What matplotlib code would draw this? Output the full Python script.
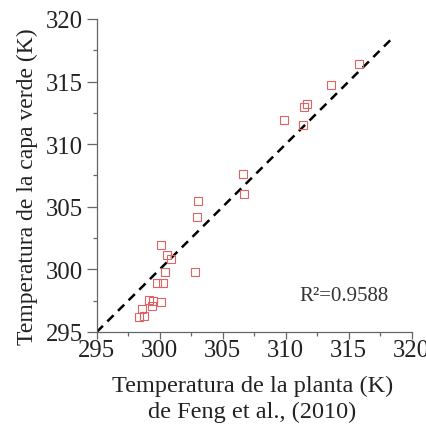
import matplotlib
matplotlib.use("Agg")
import matplotlib.pyplot as plt
from matplotlib.ticker import MultipleLocator

x_feng = [315.79, 313.57, 311.69, 311.43, 309.84, 311.35, 306.61, 306.67, 303.07, 302.94,
          300.08, 300.58, 300.90, 300.45, 302.78, 299.76, 300.29, 299.18, 299.44, 300.13,
          299.42, 298.62, 298.36, 298.78]
y_model = [316.38, 314.75, 313.24, 312.95, 311.91, 311.51, 307.60, 306.02, 305.49, 304.21,
           301.95, 301.12, 300.86, 299.82, 299.77, 298.91, 298.94, 297.58, 297.48, 297.42,
           297.10, 296.84, 296.22, 296.25]
line_range = [295.0, 318.4]
r2_text = "R²=0.9588"
xlabel = "Temperatura de la planta (K)\nde Feng et al., (2010)"
ylabel = "Temperatura de la capa verde (K)"

plt.rcParams['font.family'] = ['Liberation Serif', 'DejaVu Serif']

fig = plt.figure(figsize=(4.27, 4.31), dpi=100)
ax = fig.add_axes([0.2265, 0.2274, 0.7375, 0.7262])

ax.plot(line_range, line_range, color='black', linestyle=(0, (3.5, 2.5)), linewidth=1.8, zorder=2)
ax.plot(x_feng, y_model, linestyle='none', marker='s', markersize=5.4, markerfacecolor='none',
        markeredgecolor='#dc6464', markeredgewidth=0.8, zorder=3)

ax.set_xlim(295, 320)
ax.set_ylim(295, 320)
ax.xaxis.set_major_locator(MultipleLocator(5))
ax.yaxis.set_major_locator(MultipleLocator(5))
ax.xaxis.set_minor_locator(MultipleLocator(2.5))
ax.yaxis.set_minor_locator(MultipleLocator(2.5))
for s in ['top', 'right']:
    ax.spines[s].set_visible(False)
for s in ['left', 'bottom']:
    ax.spines[s].set_color('#666666')
    ax.spines[s].set_linewidth(0.9)
ax.tick_params(which='both', direction='out', width=0.9, color='#666666',
               labelsize=17.8, labelcolor='#222222')
ax.tick_params(axis='x', which='major', length=5, pad=0)
ax.tick_params(axis='y', which='major', length=7, pad=3)
ax.tick_params(which='minor', length=3)

ax.set_xlabel(xlabel, fontsize=17.5, color='#222222', linespacing=1.25, va='top')
ax.set_ylabel(ylabel, fontsize=17, color='#222222', va='bottom')
ax.xaxis.set_label_coords(0.495, -0.138)
ax.yaxis.set_label_coords(-0.186, 0.468)

ax.text(311.1, 297.9, r2_text, fontsize=15, color='#333333', va='center', ha='left')

fig.savefig("out.png", dpi=100)
